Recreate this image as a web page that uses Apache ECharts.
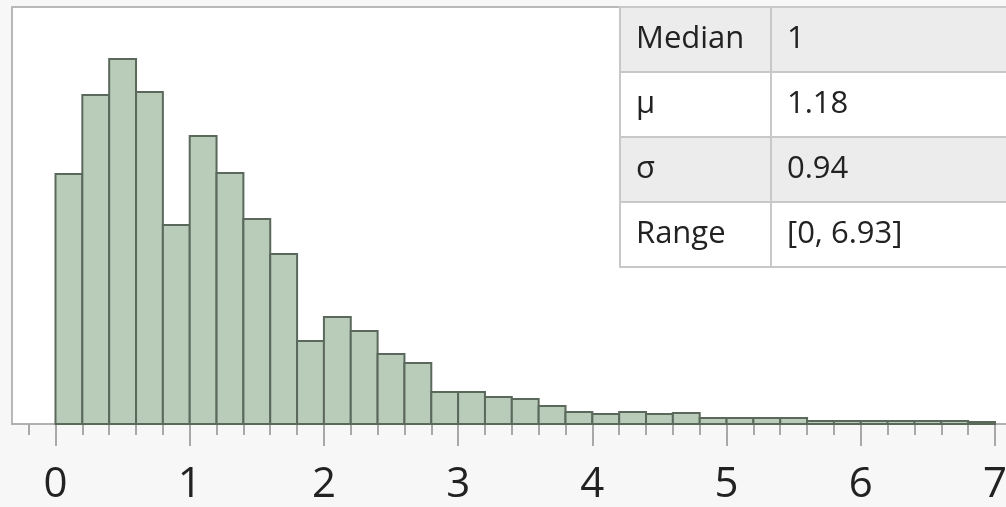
<!DOCTYPE html>
<html>
<head>
<meta charset="utf-8">
<script src="https://cdn.jsdelivr.net/npm/echarts@6/dist/echarts.min.js"></script>
<style>
html,body{margin:0;padding:0;background:#f7f7f7;}
#chart{width:1006px;height:507px;}
</style>
</head>
<body>
<div id="chart"></div>
<script>
// ---- data ----
const binStarts = [0,0.2,0.4,0.6,0.8,1.0,1.2,1.4,1.6,1.8,2.0,2.2,2.4,2.6,2.8,3.0,3.2,3.4,3.6,3.8,4.0,4.2,4.4,4.6,4.8,5.0,5.2,5.4,5.6,5.8,6.0,6.2,6.4,6.6,6.8];
const binWidth = 0.2;
const counts = [250,329,365,332,199,288,251,205,170,83,107,93,70,61,32,32,27,25,18,12,10,12,10,11,6,6,6,6,3,3,3,3,3,3,2];
const majorTicks = [0,1,2,3,4,5,6,7];
const minorTicks = [-0.2,0.2,0.4,0.6,0.8,1.2,1.4,1.6,1.8,2.2,2.4,2.6,2.8,3.2,3.4,3.6,3.8,4.2,4.4,4.6,4.8,5.2,5.4,5.6,5.8,6.2,6.4,6.6,6.8];
const statNames = ['Median','μ','σ','Range'];
const statValues = ['1','1.18','0.94','[0, 6.93]'];

// ---- layout ----
const xMin = -0.3241, xMax = 7.097, yMax = 417;
const tbl = {left:620, top:7, split:771, right:1010, rowH:65};

const bins = binStarts.map((s,i)=>[s, +(s+binWidth).toFixed(2), counts[i]]);

const graphics = [];
statNames.forEach((n,i)=>{
  const y = tbl.top + i*tbl.rowH;
  graphics.push({type:'rect', shape:{x:tbl.left, y:y, width:tbl.right-tbl.left, height:tbl.rowH},
    style:{fill: i%2===0 ? '#ececec' : '#ffffff', stroke:'#c8c8c8', lineWidth:2}, z:10});
  graphics.push({type:'text', x:tbl.left+16, y:y+tbl.rowH/2,
    style:{text:n, font:'31px "Open Sans", sans-serif', fill:'#222', verticalAlign:'middle'}, z:11});
  graphics.push({type:'text', x:tbl.split+16, y:y+tbl.rowH/2,
    style:{text:statValues[i], font:'31px "Open Sans", sans-serif', fill:'#222', verticalAlign:'middle'}, z:11});
});
graphics.push({type:'line', shape:{x1:tbl.split, y1:tbl.top, x2:tbl.split, y2:tbl.top+tbl.rowH*statNames.length},
  style:{stroke:'#c8c8c8', lineWidth:2}, z:12});

const chart = echarts.init(document.getElementById('chart'));
chart.setOption({
  animation:false,
  backgroundColor:'#f7f7f7',
  grid:{left:12, top:7, right:-2, bottom:83, show:true, backgroundColor:'#ffffff', borderColor:'#b8b8b8', borderWidth:2,
        containLabel:false, outerBoundsMode:'none'},
  xAxis:[{
    type:'value', min:xMin, max:xMax, position:'bottom',
    axisLine:{show:true, onZero:false, lineStyle:{color:'#b0b0b0', width:2}},
    axisTick:{show:true, customValues:majorTicks, length:22, lineStyle:{color:'#a8a8a8', width:2}},
    axisLabel:{show:true, customValues:majorTicks, margin:40, fontSize:42, fontFamily:'"Open Sans", sans-serif', color:'#222'},
    splitLine:{show:false}
  },{
    type:'value', min:xMin, max:xMax, position:'bottom',
    axisLine:{show:false},
    axisTick:{show:true, customValues:minorTicks, length:11, lineStyle:{color:'#a8a8a8', width:2}},
    axisLabel:{show:false},
    splitLine:{show:false}
  }],
  yAxis:{type:'value', min:0, max:yMax, show:false, splitLine:{show:false}},
  series:[{
    type:'custom',
    xAxisIndex:0,
    data:bins,
    encode:{x:[0,1], y:2},
    renderItem:function(params, api){
      const p0 = api.coord([api.value(0), 0]);
      const p1 = api.coord([api.value(1), api.value(2)]);
      return {type:'rect', shape:{x:p0[0], y:p1[1], width:p1[0]-p0[0], height:p0[1]-p1[1]},
        style:{fill:'#b9cbb9', stroke:'#5a695c', lineWidth:2}};
    }
  }],
  graphic:graphics
});
</script>
</body>
</html>
